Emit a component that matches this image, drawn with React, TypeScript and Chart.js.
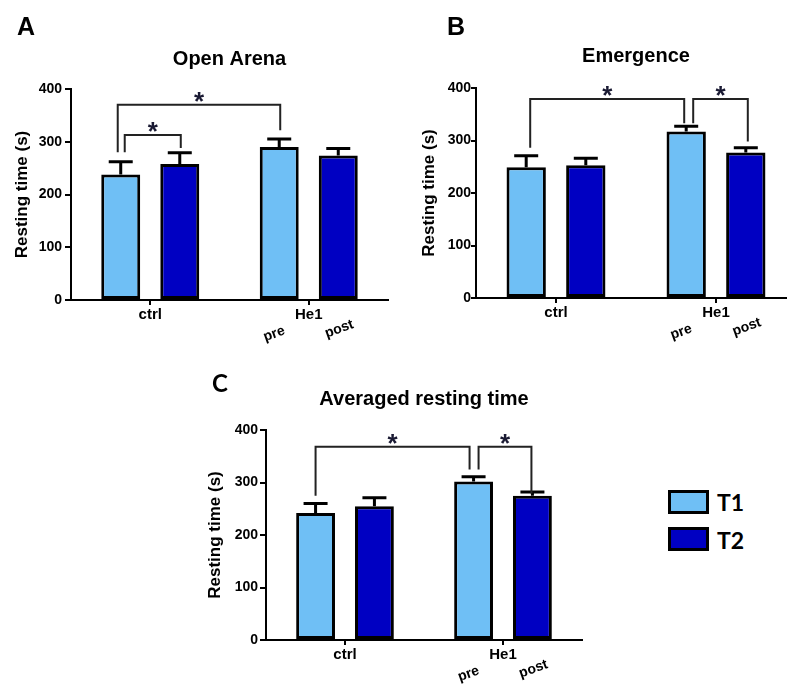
import React, { useEffect, useRef } from "react";
import { Chart, registerables } from "chart.js";
Chart.register(...registerables);

// ---------- data ----------
const categories = ["ctrl", "He1"];
const seriesNames = ["T1", "T2"];
const subLabels = [["", ""], ["pre", "post"]];
const yMin = 0;
const yMax = 400;
const yStep = 100;
const yTitle = "Resting time (s)";

const openArenaTitle = "Open Arena";
const openArenaT1 = [238, 290];
const openArenaT2 = [258, 274];
const openArenaErrT1 = [24, 15];
const openArenaErrT2 = [21, 13];
// [fromCat, fromSeries, toCat, toSeries, bracketTop, leftLegEnd, rightLegEnd]
const openArenaSig = [
  [0, 0, 1, 0, 370, 280, 322],
  [0, 0, 0, 1, 313, 280, 288],
];

const emergenceTitle = "Emergence";
const emergenceT1 = [249, 317];
const emergenceT2 = [253, 277];
const emergenceErrT1 = [22, 10];
const emergenceErrT2 = [13, 9];
const emergenceSig = [
  [0, 0, 1, 0, 379, 286, 333],
  [1, 0, 1, 1, 379, 333, 298],
];

const averagedTitle = "Averaged resting time";
const averagedT1 = [242, 302];
const averagedT2 = [255, 275];
const averagedErrT1 = [18, 9];
const averagedErrT2 = [16, 7];
const averagedSig = [
  [0, 0, 1, 0, 368, 275, 325],
  [1, 0, 1, 1, 368, 325, 279],
];

// ---------- style ----------
const LIGHT = "#6FBFF5";
const DARK = "#0000C2";
const FONT = "'Liberation Sans', Arial, Helvetica, sans-serif";
const subLabelOffsets = [
  [-5, 34],
  [1, 29],
];

type PanelStyle = {
  left: number; top: number; width: number; height: number;
  yAxisW: number; xAxisH: number; padRight: number;
  titleTop: number; titleBottom: number; yTitlePad: number;
  yTickPad: number; yTickLen: number; nudges: number[][];
};

const panelA: PanelStyle = {
  left: 0, top: 0, width: 395, height: 345, yAxisW: 71, xAxisH: 45, padRight: 7,
  titleTop: 47, titleBottom: 18, yTitlePad: 12.5, yTickPad: 3, yTickLen: 6,
  nudges: [[-3, 1], [4, 1]],
};
const panelB: PanelStyle = {
  left: 400, top: 0, width: 400, height: 345, yAxisW: 76, xAxisH: 47, padRight: 4,
  titleTop: 44.7, titleBottom: 19.3, yTitlePad: 19.3, yTickPad: 0, yTickLen: 5,
  nudges: [[4, -2], [7, 2]],
};
const panelC: PanelStyle = {
  left: 190, top: 350, width: 400, height: 334, yAxisW: 76, xAxisH: 44, padRight: 8,
  titleTop: 37, titleBottom: 19, yTitlePad: 15.3, yTickPad: 2, yTickLen: 6,
  nudges: [[0, -4], [5, -1]],
};

type PanelData = {
  title: string; t1: number[]; t2: number[]; e1: number[]; e2: number[]; sig: number[][];
};

function makeOverlay(d: PanelData, s: PanelStyle) {
  return {
    id: "overlay",
    afterDatasetsDraw(chart: any) {
      const ctx = chart.ctx as CanvasRenderingContext2D;
      const ys = chart.scales.y;
      const values = [d.t1, d.t2];
      const errs = [d.e1, d.e2];
      ctx.save();
      // error bars (upper only)
      for (let di = 0; di < 2; di++) {
        const meta = chart.getDatasetMeta(di);
        meta.data.forEach((el: any, ci: number) => {
          const v = values[di][ci];
          const top = ys.getPixelForValue(v);
          const end = ys.getPixelForValue(v + errs[di][ci]);
          ctx.strokeStyle = "#000";
          ctx.lineWidth = 3;
          ctx.lineCap = "butt";
          ctx.beginPath();
          ctx.moveTo(el.x, top);
          ctx.lineTo(el.x, end);
          ctx.moveTo(el.x - 12, end);
          ctx.lineTo(el.x + 12, end);
          ctx.stroke();
        });
      }
      // significance brackets
      d.sig.forEach((b, bi) => {
        const [fc, fs, tc, ts, topV, lEnd, rEnd] = b;
        const xa = chart.getDatasetMeta(fs).data[fc].x + s.nudges[bi][0];
        const xb = chart.getDatasetMeta(ts).data[tc].x + s.nudges[bi][1];
        const yt = ys.getPixelForValue(topV);
        ctx.strokeStyle = "#222";
        ctx.lineWidth = 2;
        ctx.lineJoin = "miter";
        ctx.beginPath();
        ctx.moveTo(xa, ys.getPixelForValue(lEnd));
        ctx.lineTo(xa, yt);
        ctx.lineTo(xb, yt);
        ctx.lineTo(xb, ys.getPixelForValue(rEnd));
        ctx.stroke();
        ctx.fillStyle = "#1a1a33";
        ctx.font = `bold 26px ${FONT}`;
        ctx.textAlign = "center";
        ctx.textBaseline = "alphabetic";
        ctx.fillText("*", (xa + xb) / 2, yt + 5);
      });
      // rotated sub labels
      const bottom = chart.chartArea.bottom;
      ctx.fillStyle = "#000";
      ctx.font = `bold 14px ${FONT}`;
      ctx.textAlign = "center";
      ctx.textBaseline = "middle";
      for (let ci = 0; ci < categories.length; ci++) {
        for (let di = 0; di < 2; di++) {
          const txt = subLabels[ci][di];
          if (!txt) continue;
          const el = chart.getDatasetMeta(di).data[ci];
          ctx.save();
          ctx.translate(el.x + subLabelOffsets[di][0], bottom + subLabelOffsets[di][1]);
          ctx.rotate((-20 * Math.PI) / 180);
          ctx.fillText(txt, 0, 0);
          ctx.restore();
        }
      }
      ctx.restore();
    },
  };
}

function Panel({ d, s }: { d: PanelData; s: PanelStyle }) {
  const ref = useRef<HTMLCanvasElement | null>(null);
  useEffect(() => {
    if (!ref.current) return;
    const ds = (label: string, data: number[], color: string) => ({
      label,
      data,
      backgroundColor: color,
      borderColor: "#000",
      borderWidth: 3,
      borderSkipped: false,
      categoryPercentage: 0.745,
      barPercentage: 0.66,
    });
    const chart = new Chart(ref.current, {
      type: "bar",
      data: {
        labels: categories,
        datasets: [ds(seriesNames[0], d.t1, LIGHT), ds(seriesNames[1], d.t2, DARK)],
      },
      options: {
        responsive: false,
        animation: false,
        events: [],
        layout: { padding: { top: 0, left: 0, bottom: 0, right: s.padRight } },
        plugins: {
          legend: { display: false },
          tooltip: { enabled: false },
          title: {
            display: true,
            text: d.title,
            color: "#000",
            fullSize: false,
            font: { family: FONT, size: 20, weight: "bold", lineHeight: 1.2 },
            padding: { top: s.titleTop, bottom: s.titleBottom },
          },
        },
        scales: {
          x: {
            offset: true,
            grid: {
              display: true,
              drawOnChartArea: false,
              drawTicks: true,
              tickLength: 5,
              offset: false,
              color: "#000",
              lineWidth: 2,
            },
            border: { display: true, color: "#000", width: 2 },
            ticks: { color: "#000", padding: 1, font: { family: FONT, size: 15, weight: "bold" } },
            afterFit: (sc: any) => { sc.height = s.xAxisH; },
          },
          y: {
            min: yMin,
            max: yMax,
            ticks: {
              stepSize: yStep,
              color: "#000",
              padding: s.yTickPad,
              font: { family: FONT, size: 14, weight: "bold" },
            },
            grid: {
              display: true,
              drawOnChartArea: false,
              drawTicks: true,
              tickLength: s.yTickLen,
              color: "#000",
              lineWidth: 2,
            },
            border: { display: true, color: "#000", width: 2 },
            title: {
              display: true,
              text: yTitle,
              color: "#000",
              font: { family: FONT, size: 17, weight: "bold", lineHeight: 1.2 },
              padding: { top: s.yTitlePad, bottom: 0 },
            },
            afterFit: (sc: any) => { sc.width = s.yAxisW; },
          },
        },
      } as any,
      plugins: [makeOverlay(d, s)],
    });
    return () => chart.destroy();
  }, []);
  return (
    <canvas
      ref={ref}
      width={s.width}
      height={s.height}
      style={{ position: "absolute", left: s.left, top: s.top, width: s.width, height: s.height }}
    />
  );
}

const letterStyle = (left: number, top: number, family: string, size: number): React.CSSProperties => ({
  position: "absolute",
  left,
  top,
  fontFamily: family,
  fontWeight: "bold",
  fontSize: size,
  lineHeight: 1,
  color: "#000",
  whiteSpace: "nowrap",
});

export default function App() {
  const dA: PanelData = { title: openArenaTitle, t1: openArenaT1, t2: openArenaT2, e1: openArenaErrT1, e2: openArenaErrT2, sig: openArenaSig };
  const dB: PanelData = { title: emergenceTitle, t1: emergenceT1, t2: emergenceT2, e1: emergenceErrT1, e2: emergenceErrT2, sig: emergenceSig };
  const dC: PanelData = { title: averagedTitle, t1: averagedT1, t2: averagedT2, e1: averagedErrT1, e2: averagedErrT2, sig: averagedSig };
  const legendBox = (top: number, color: string): React.CSSProperties => ({
    position: "absolute",
    left: 668,
    top,
    width: 41,
    height: 24,
    boxSizing: "border-box",
    border: "3px solid #000",
    background: color,
  });
  return (
    <div
      style={{
        position: "fixed",
        left: 0,
        top: 0,
        width: 787,
        height: 684,
        overflow: "hidden",
        background: "#fff",
      }}
    >
      <Panel d={dA} s={panelA} />
      <Panel d={dB} s={panelB} />
      <Panel d={dC} s={panelC} />
      <div style={letterStyle(17, 14, FONT, 25)}>A</div>
      <div style={letterStyle(447, 14, FONT, 25)}>B</div>
      <div style={letterStyle(212, 371, "Lato, sans-serif", 24)}>C</div>
      <div style={legendBox(490, LIGHT)} />
      <div style={legendBox(527, DARK)} />
      <div style={letterStyle(717, 491, "Lato, sans-serif", 23)}>{seriesNames[0]}</div>
      <div style={letterStyle(717, 529, "Lato, sans-serif", 23)}>{seriesNames[1]}</div>
    </div>
  );
}
